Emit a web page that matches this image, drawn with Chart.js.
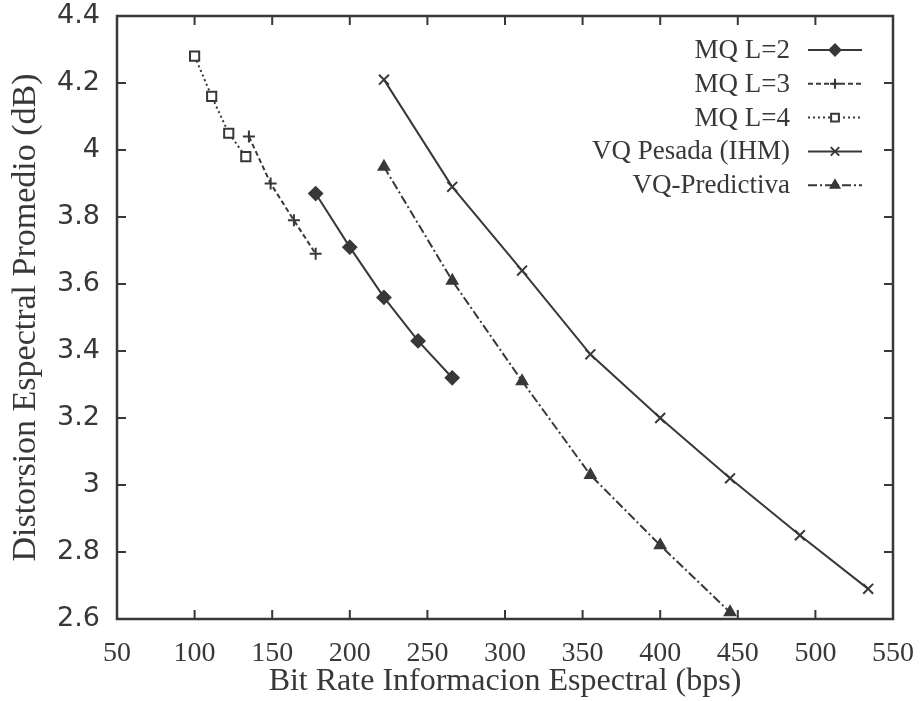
<!DOCTYPE html>
<html>
<head>
<meta charset="utf-8">
<script src="https://cdn.jsdelivr.net/npm/chart.js@4/dist/chart.umd.min.js"></script>
<style>
  html, body { margin: 0; padding: 0; background: #fff; }
  #wrap { width: 920px; height: 701px; }
</style>
</head>
<body>
<div id="wrap"><canvas id="chart" width="920" height="701"></canvas></div>
<script>
// bit rate (bps) vs spectral distortion (dB)
var mq2X = [178, 200, 222, 244, 266];
var mq2Y = [3.87, 3.71, 3.56, 3.43, 3.32];

var mq3X = [135, 149, 164, 178];
var mq3Y = [4.04, 3.90, 3.79, 3.69];

var mq4X = [100, 111, 122, 133];
var mq4Y = [4.28, 4.16, 4.05, 3.98];

var vqpX = [222, 266, 311, 355, 400, 445, 490, 534];
var vqpY = [4.21, 3.89, 3.64, 3.39, 3.20, 3.02, 2.85, 2.69];

var vqprX = [222, 266, 311, 355, 400, 445];
var vqprY = [3.95, 3.61, 3.31, 3.03, 2.82, 2.62];

var xTicks = [50, 100, 150, 200, 250, 300, 350, 400, 450, 500, 550];
var yTicks = [2.6, 2.8, 3, 3.2, 3.4, 3.6, 3.8, 4, 4.2, 4.4];

var ink = '#383838';
var serif = '"Liberation Serif", "Times New Roman", serif';
var sans = '"DejaVu Sans", Verdana, sans-serif';

function pts(xs, ys) {
    return xs.map(function (x, i) { return { x: x, y: ys[i] }; });
}

function series(label, xs, ys, dash, style, fill, radius) {
    return {
        label: label,
        data: pts(xs, ys),
        showLine: true,
        borderColor: ink,
        borderWidth: 2,
        borderDash: dash,
        pointStyle: style,
        pointRadius: radius,
        pointBackgroundColor: fill,
        pointBorderColor: ink,
        pointBorderWidth: 2
    };
}

var datasets = [
    series('MQ L=2', mq2X, mq2Y, [], 'rectRot', ink, 6.5),
    series('MQ L=3', mq3X, mq3Y, [5, 3], 'cross', ink, 6),
    series('MQ L=4', mq4X, mq4Y, [2, 3], 'rect', '#fff', 6.5),
    series('VQ Pesada (IHM)', vqpX, vqpY, [], 'crossRot', ink, 7),
    series('VQ-Predictiva', vqprX, vqprY, [9, 3, 2, 3], 'triangle', ink, 6)
];

// box frame with inward ticks on all four sides
var framePlugin = {
    id: 'frame',
    afterDatasetsDraw: function (chart) {
        var ctx = chart.ctx, a = chart.chartArea;
        var sx = chart.scales.x, sy = chart.scales.y;
        var len = 9;
        ctx.save();
        ctx.strokeStyle = ink;
        ctx.lineWidth = 2.5;
        ctx.strokeRect(a.left, a.top, a.right - a.left, a.bottom - a.top);
        ctx.lineWidth = 2;
        ctx.beginPath();
        xTicks.forEach(function (v) {
            var px = sx.getPixelForValue(v);
            ctx.moveTo(px, a.bottom); ctx.lineTo(px, a.bottom - len);
            ctx.moveTo(px, a.top); ctx.lineTo(px, a.top + len);
        });
        yTicks.forEach(function (v) {
            var py = sy.getPixelForValue(v);
            ctx.moveTo(a.left, py); ctx.lineTo(a.left + len, py);
            ctx.moveTo(a.right, py); ctx.lineTo(a.right - len, py);
        });
        ctx.stroke();
        ctx.restore();
    }
};

// key in the upper right: label text right-aligned, then line sample with marker
var keyPlugin = {
    id: 'key',
    afterDraw: function (chart) {
        var ctx = chart.ctx;
        var textRight = 790, lineL = 808, lineR = 862, top = 50, step = 33.8;
        ctx.save();
        ctx.font = '27px ' + serif;
        ctx.textAlign = 'right';
        ctx.textBaseline = 'middle';
        chart.data.datasets.forEach(function (ds, i) {
            var y = top + i * step;
            ctx.fillStyle = ink;
            ctx.fillText(ds.label, textRight, y + 1);
            ctx.strokeStyle = ink;
            ctx.lineWidth = 2;
            ctx.setLineDash(ds.borderDash);
            ctx.beginPath();
            ctx.moveTo(lineL, y);
            ctx.lineTo(lineR, y);
            ctx.stroke();
            ctx.setLineDash([]);
            ctx.fillStyle = ds.pointBackgroundColor;
            ctx.lineWidth = ds.pointBorderWidth;
            Chart.helpers.drawPoint(ctx, {
                pointStyle: ds.pointStyle,
                radius: ds.pointRadius - 1,
                rotation: 0,
                borderWidth: ds.pointBorderWidth
            }, (lineL + lineR) / 2, y);
        });
        ctx.restore();
    }
};

new Chart(document.getElementById('chart'), {
    type: 'scatter',
    data: { datasets: datasets },
    options: {
        responsive: false,
        animation: false,
        layout: { padding: { top: 16, right: 27, bottom: 0, left: 0 } },
        plugins: {
            legend: { display: false },
            tooltip: { enabled: false }
        },
        scales: {
            x: {
                type: 'linear',
                min: 50,
                max: 550,
                afterBuildTicks: function (s) {
                    s.ticks = xTicks.map(function (v) { return { value: v }; });
                },
                afterFit: function (s) {
                    s.height = 82;
                    s.paddingLeft = 0;
                    s.paddingRight = 0;
                },
                grid: { display: false },
                border: { display: false },
                ticks: {
                    color: ink,
                    padding: 10,
                    maxRotation: 0,
                    font: { family: serif, size: 28 }
                },
                title: {
                    display: true,
                    text: 'Bit Rate Informacion Espectral (bps)',
                    color: ink,
                    padding: { top: 0, bottom: 0 },
                    font: { family: serif, size: 32 }
                }
            },
            y: {
                type: 'linear',
                min: 2.6,
                max: 4.4,
                afterBuildTicks: function (s) {
                    s.ticks = yTicks.map(function (v) { return { value: v }; });
                },
                afterFit: function (s) {
                    s.width = 117;
                    s.paddingTop = 0;
                    s.paddingBottom = 0;
                },
                grid: { display: false },
                border: { display: false },
                ticks: {
                    color: ink,
                    padding: 9,
                    font: { family: sans, size: 27, lineHeight: 1 },
                    callback: function (v) { return String(Number(v.toFixed(1))); }
                },
                title: {
                    display: true,
                    text: 'Distorsion Espectral Promedio (dB)',
                    color: ink,
                    padding: { top: 6, bottom: 0 },
                    font: { family: serif, size: 34 }
                }
            }
        }
    },
    plugins: [framePlugin, keyPlugin]
});
</script>
</body>
</html>
